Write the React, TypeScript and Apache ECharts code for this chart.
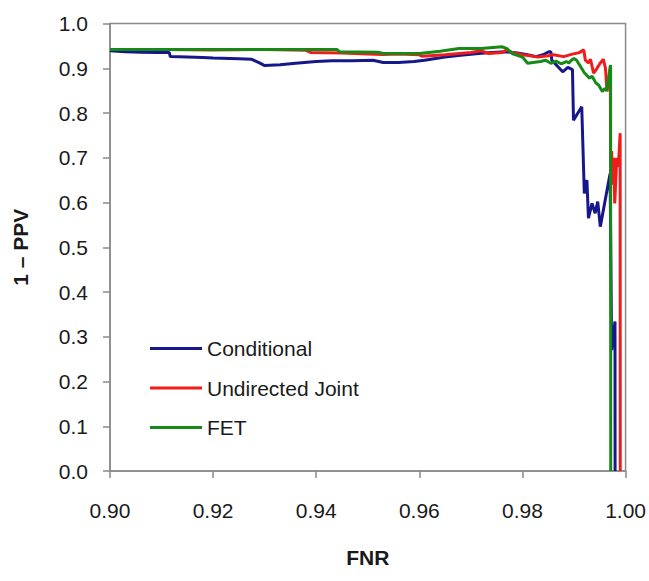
import React, { useEffect, useRef } from "react";
import * as echarts from "echarts";

// ---- Data (FNR vs 1 - PPV) ----
const condX = [0.9000,0.9030,0.9060,0.9090,0.9115,0.9117,0.9150,0.9180,0.9200,0.9250,0.9275,0.9290,0.9300,0.9330,0.9360,0.9400,0.9430,0.9470,0.9510,0.9530,0.9560,0.9590,0.9610,0.9650,0.9680,0.9715,0.9740,0.9768,0.9790,0.9810,0.9826,0.9840,0.9851,0.9855,0.9857,0.9878,0.9888,0.9897,0.9899,0.9915,0.9920,0.9925,0.9928,0.9935,0.9941,0.9946,0.9951,0.9970,0.9973,0.99795,0.99797];
const condY = [0.939,0.937,0.936,0.935,0.935,0.926,0.925,0.924,0.923,0.921,0.920,0.912,0.906,0.908,0.911,0.915,0.917,0.917,0.918,0.913,0.913,0.915,0.918,0.925,0.929,0.933,0.935,0.937,0.934,0.930,0.926,0.930,0.937,0.937,0.918,0.892,0.902,0.897,0.784,0.814,0.620,0.650,0.565,0.598,0.576,0.602,0.546,0.665,0.270,0.334,0.000];

const jointX = [0.9000,0.9100,0.9200,0.9300,0.9380,0.9390,0.9450,0.9500,0.9530,0.9560,0.9600,0.9605,0.9650,0.9700,0.9720,0.9735,0.9760,0.9770,0.9780,0.9800,0.9815,0.9830,0.9850,0.9860,0.9880,0.9895,0.9910,0.9919,0.9922,0.9928,0.9932,0.9938,0.9943,0.9950,0.9957,0.9961,0.9964,0.9967,0.99705,0.9971,0.9973,0.9975,0.9977,0.9979,0.9983,0.9986,0.99895,0.99897];
const jointY = [0.942,0.942,0.941,0.942,0.940,0.935,0.934,0.932,0.931,0.932,0.930,0.927,0.930,0.935,0.939,0.933,0.935,0.941,0.935,0.930,0.928,0.925,0.928,0.930,0.926,0.931,0.935,0.941,0.918,0.912,0.920,0.889,0.897,0.910,0.920,0.900,0.848,0.881,0.870,0.660,0.715,0.640,0.700,0.598,0.700,0.680,0.755,0.000];

const fetX = [0.9000,0.9440,0.9445,0.9520,0.9530,0.9600,0.9640,0.9677,0.9720,0.9760,0.9770,0.9780,0.9800,0.9810,0.9835,0.9845,0.9855,0.9865,0.9875,0.9885,0.9890,0.9895,0.9900,0.9905,0.9912,0.9920,0.9930,0.9935,0.9942,0.9948,0.9955,0.9960,0.9963,0.9967,0.9970,0.9971,0.99712];
const fetY = [0.942,0.942,0.937,0.936,0.933,0.933,0.938,0.944,0.944,0.948,0.944,0.933,0.925,0.911,0.915,0.918,0.911,0.916,0.910,0.915,0.912,0.918,0.922,0.918,0.905,0.890,0.878,0.882,0.868,0.862,0.848,0.855,0.850,0.878,0.903,0.907,0.000];

const seriesNames = ["Conditional", "Undirected Joint", "FET"];
const seriesColors = ["#17178c", "#f01c1c", "#168a16"];

const pairs = (xs: number[], ys: number[]) => xs.map((x, i) => [x, ys[i]]);

export default function App() {
  const ref = useRef<HTMLDivElement>(null);

  useEffect(() => {
    if (!ref.current) return;
    const chart = echarts.init(ref.current, undefined, { renderer: "svg" });
    const font = "Arial, 'Liberation Sans', sans-serif";
    const axisColor = "#8a8a8a";
    const allData = [pairs(condX, condY), pairs(jointX, jointY), pairs(fetX, fetY)];

    chart.setOption({
      animation: false,
      backgroundColor: "#ffffff",
      grid: {
        left: 110,
        top: 23.5,
        right: 22,
        bottom: 110,
        show: true,
        borderColor: axisColor,
        borderWidth: 1.5,
        backgroundColor: "transparent",
      },
      legend: {
        data: seriesNames,
        orient: "vertical",
        left: 150,
        top: 338,
        padding: 0,
        itemWidth: 52,
        itemHeight: 3,
        itemGap: 18.5,
        icon: "rect",
        textStyle: { fontFamily: font, fontSize: 21, color: "#1a1a1a", lineHeight: 21 },
      },
      xAxis: {
        type: "value",
        min: 0.9,
        max: 1.0,
        interval: 0.02,
        name: "FNR",
        nameLocation: "middle",
        nameGap: 76,
        nameTextStyle: { fontFamily: font, fontSize: 21, fontWeight: "bold", color: "#1a1a1a" },
        axisLine: { show: true, lineStyle: { color: axisColor, width: 1.5 } },
        axisTick: { show: true, inside: false, length: 7, lineStyle: { color: axisColor, width: 1.5 } },
        axisLabel: {
          margin: 29,
          fontFamily: font,
          fontSize: 21,
          color: "#1a1a1a",
          formatter: (v: number) => v.toFixed(2),
        },
        splitLine: { show: false },
      },
      yAxis: {
        type: "value",
        min: 0,
        max: 1,
        interval: 0.1,
        name: "1 – PPV",
        nameLocation: "middle",
        nameGap: 79,
        nameRotate: 90,
        nameTextStyle: { fontFamily: font, fontSize: 21, fontWeight: "bold", color: "#1a1a1a" },
        axisLine: { show: true, lineStyle: { color: axisColor, width: 1.5 } },
        axisTick: { show: true, inside: false, length: 7, lineStyle: { color: axisColor, width: 1.5 } },
        axisLabel: {
          margin: 22,
          fontFamily: font,
          fontSize: 21,
          color: "#1a1a1a",
          formatter: (v: number) => v.toFixed(1),
        },
        splitLine: { show: false },
      },
      series: seriesNames.map((name, i) => ({
        name,
        type: "line",
        data: allData[i],
        showSymbol: false,
        symbol: "none",
        color: seriesColors[i],
        lineStyle: { color: seriesColors[i], width: 3 },
        z: 2 + i,
      })),
    });

    return () => chart.dispose();
  }, []);

  return (
    <div
      ref={ref}
      style={{ position: "fixed", left: 0, top: 0, width: 649, height: 581, background: "#fff" }}
    />
  );
}
